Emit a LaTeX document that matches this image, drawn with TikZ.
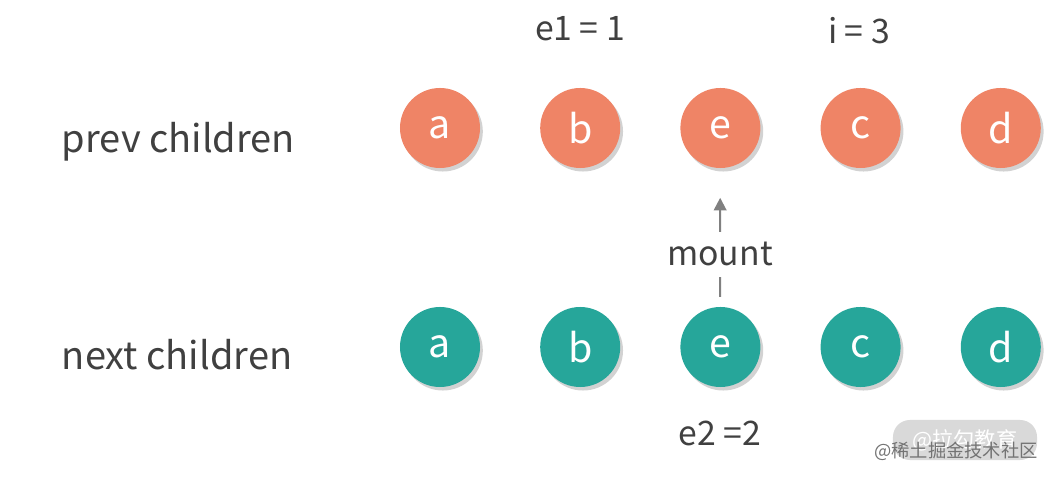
\documentclass[tikz,border=0pt]{standalone}
\usepackage{fontspec}
\setmainfont{Noto Sans CJK SC}
\usetikzlibrary{arrows.meta, positioning, shadows}

\definecolor{prevfill}{HTML}{EF8466}
\definecolor{nextfill}{HTML}{26A69A}
\definecolor{labeltext}{HTML}{404040}

\begin{document}
\begin{tikzpicture}[x=0.025cm, y=-0.025cm,
			every node/.style={font=\fontsize{24}{28}\selectfont, text=labeltext},
			kid/.style={circle, minimum size=2cm, inner sep=0pt, text=white,
				font=\fontsize{28}{32}\selectfont,
				drop shadow={shadow xshift=2pt, shadow yshift=-2.5pt, opacity=0.25, fill=black!70}},
			prevkid/.style={kid, fill=prevfill},
			nextkid/.style={kid, fill=nextfill},
			rowlabel/.style={anchor=base west, font=\fontsize{27}{31}\selectfont},
			arr/.style={-{Triangle[length=9pt, width=9pt]}, line width=1.5pt, draw=black!50},
			link/.style={line width=1.5pt, draw=black!50},
			]
			\useasboundingbox (0,0) rectangle (1053,477);

			% Row labels
			\node[rowlabel] (prevlabel) at (57,153) {prev children};
			\node[rowlabel] (nextlabel) at (57,370) {next children};

			% Prev children
			\node[prevkid] (pa) at (440,128) {a};
			\node[prevkid, right=1.49cm of pa] (pb) {b};
			\node[prevkid, right=1.49cm of pb] (pe) {e};
			\node[prevkid, right=1.49cm of pe] (pc) {c};
			\node[prevkid, right=1.49cm of pc] (pd) {d};

			% Next children
			\node[nextkid] (na) at (440,347) {a};
			\node[nextkid, right=1.49cm of na] (nb) {b};
			\node[nextkid, right=1.49cm of nb] (ne) {e};
			\node[nextkid, right=1.49cm of ne] (nc) {c};
			\node[nextkid, right=1.49cm of nc] (nd) {d};

			% Index labels
			\node[anchor=base] (eone) at (580,41) {e1 = 1};
			\node[anchor=base] (icount) at (859,44) {i = 3};
			\node[anchor=base] (etwo) at (720,446) {e2 =2};

			% Mount arrow
			\node[anchor=base] (mount) at (720,266) {mount};
			\draw[arr, shorten <=4pt, shorten >=21pt] (mount) -- (pe);
			\draw[link, shorten <=4pt, shorten >=7pt] (mount) -- (ne);

			% Watermark
			\node[fill=black!15, rounded corners=12pt, minimum width=3.6cm, minimum height=1cm,
				text=white, font=\fontsize{15}{18}\selectfont] (wmbox) at (965,440) {@拉勾教育};
			\node[text=black!55, font=\fontsize{13}{16}\selectfont] (wmtext) at (956,451) {@稀土掘金技术社区};
		\end{tikzpicture}
\end{document}
